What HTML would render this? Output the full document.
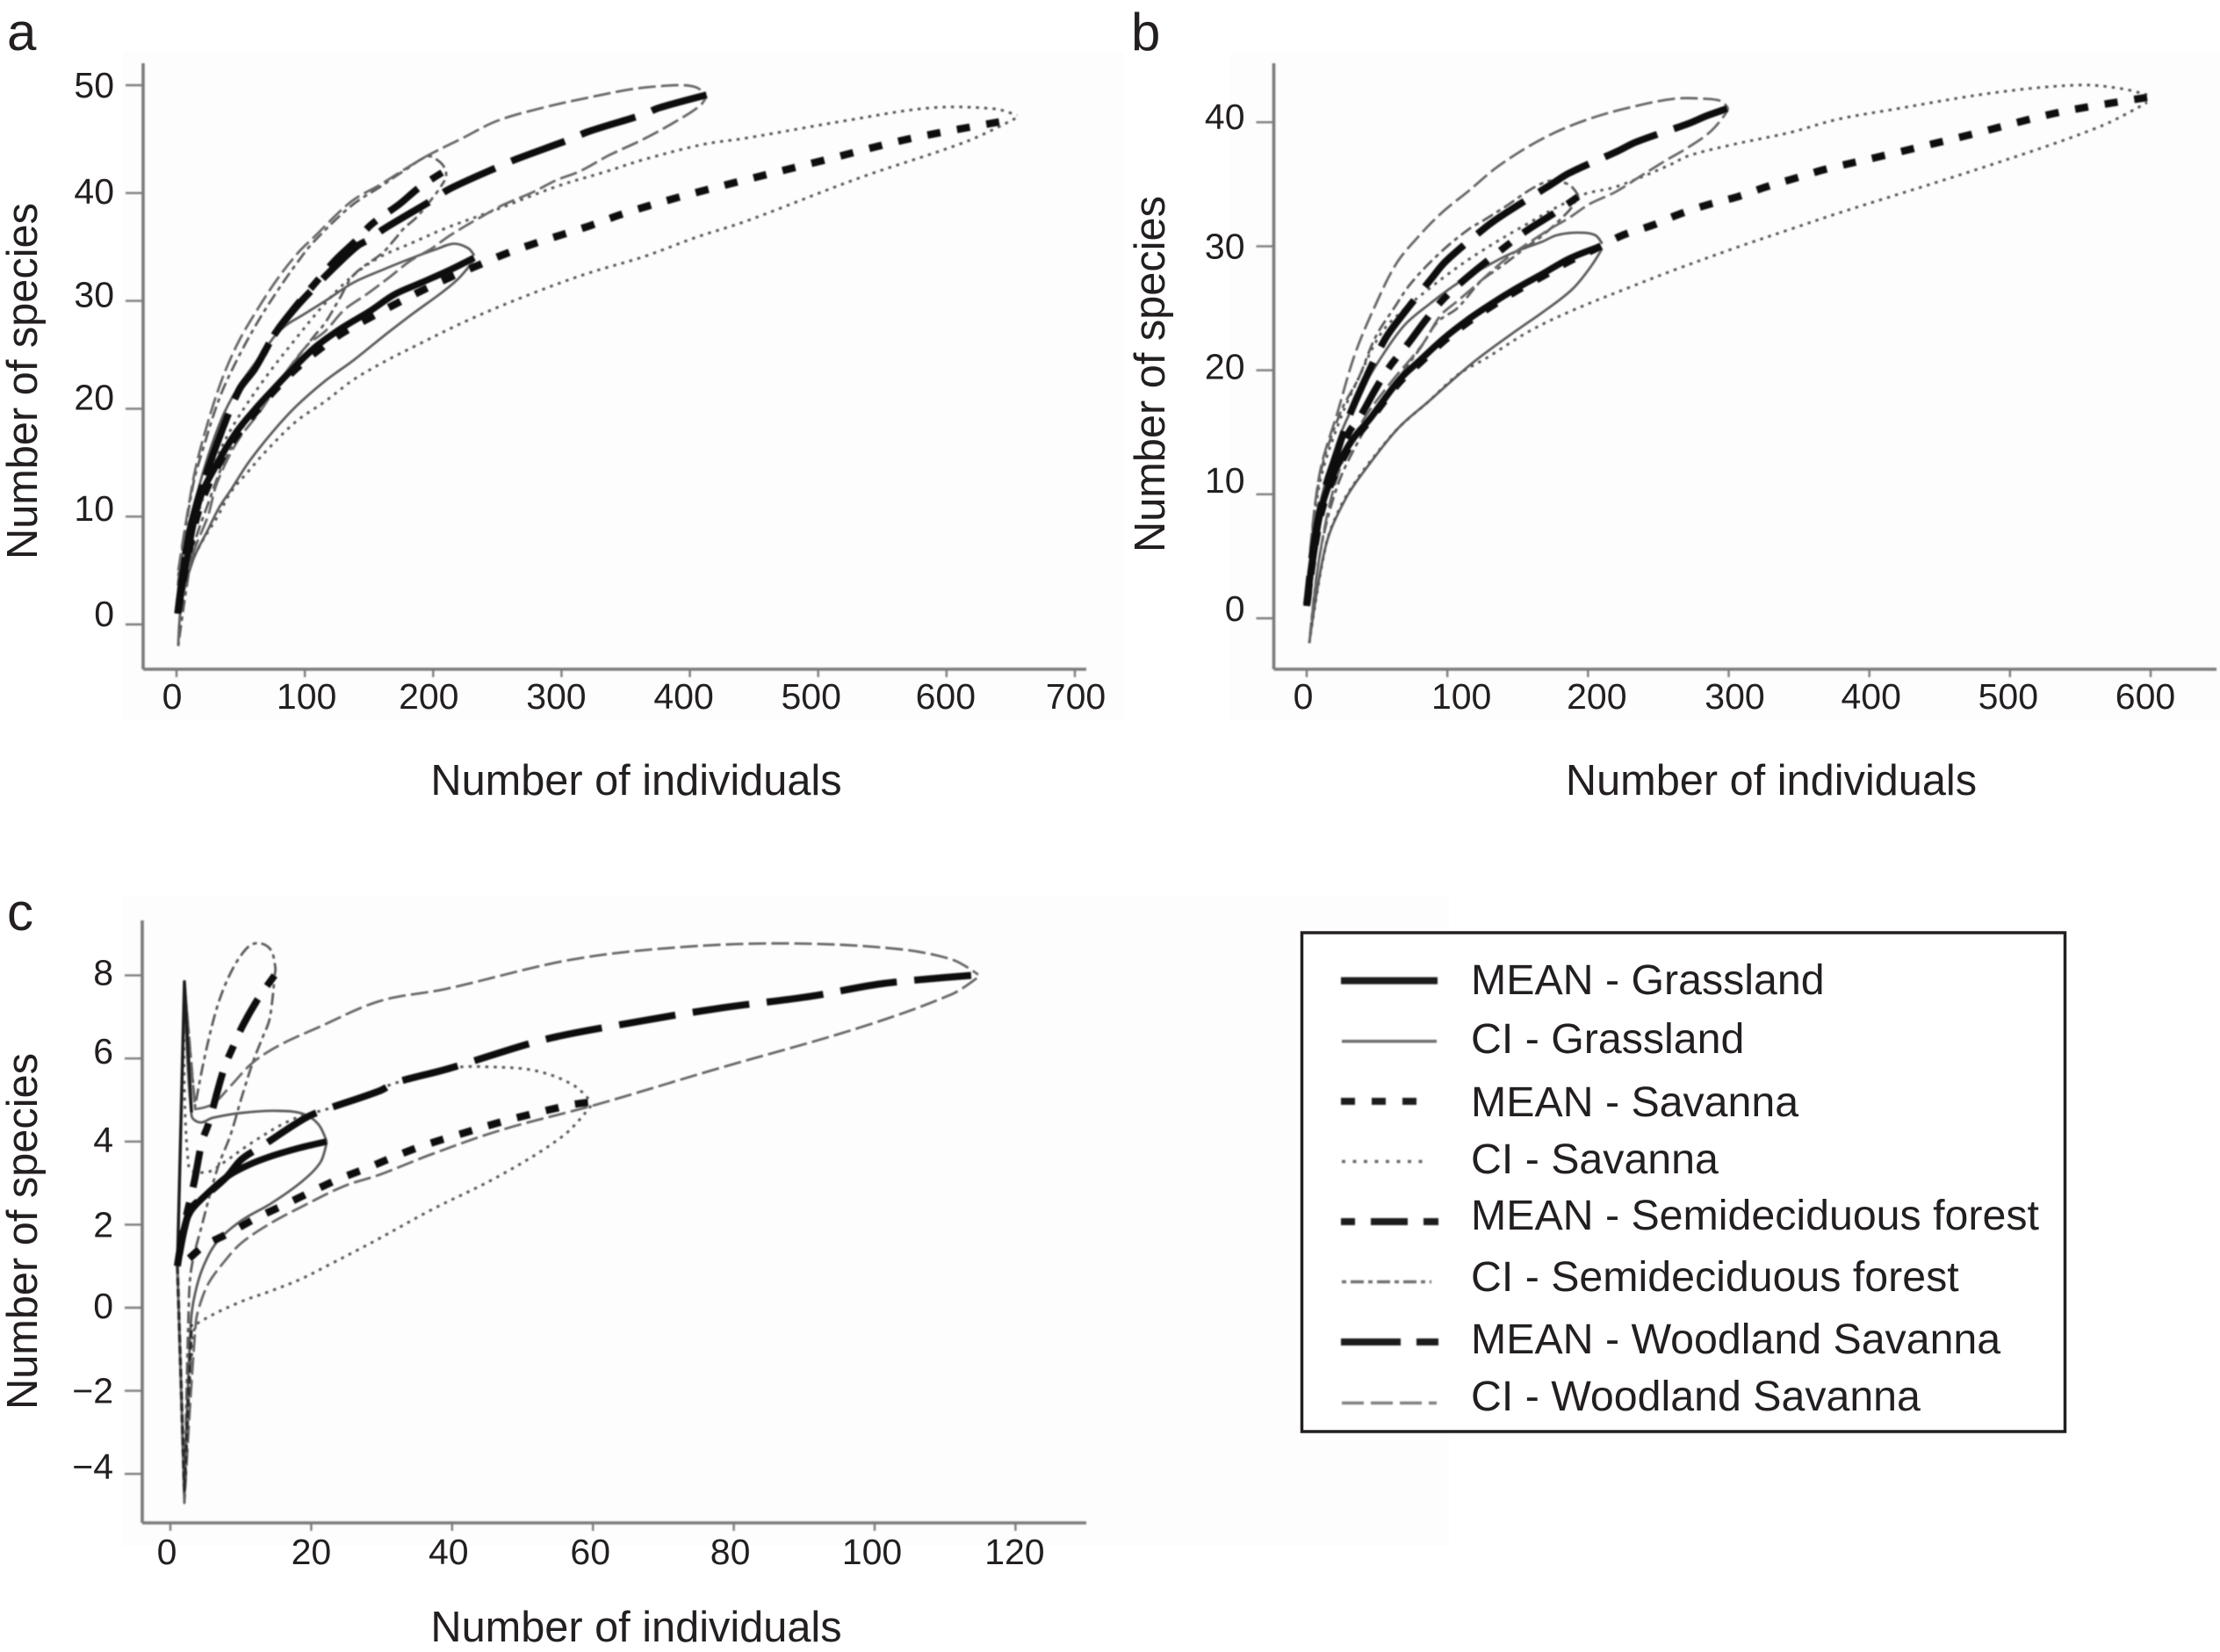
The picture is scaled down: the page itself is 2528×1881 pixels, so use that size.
<!DOCTYPE html>
<html lang="en">
<head>
<meta charset="utf-8">
<title>Species rarefaction curves</title>
<style>
html,body{margin:0;padding:0;background:#fff;}
body{width:2528px;height:1881px;overflow:hidden;}
svg{display:block;}
text{font-family:"Liberation Sans",Arial,sans-serif;fill:#231f20;}
</style>
</head>
<body>
<svg id="fig" xmlns="http://www.w3.org/2000/svg" width="2528" height="1881" viewBox="0 0 2528 1881">
<defs>
<filter id="soft" filterUnits="userSpaceOnUse" x="0" y="0" width="2528" height="1881"><feGaussianBlur stdDeviation="0.8"/></filter>
</defs>
<rect x="0" y="0" width="2528" height="1881" fill="#ffffff"/>
<rect x="140" y="60" width="1140" height="760" fill="#fdfdfd"/>
<rect x="1400" y="60" width="1128" height="760" fill="#fdfdfd"/>
<rect x="140" y="1020" width="1510" height="740" fill="#fdfdfd"/>
<text x="8" y="57" font-size="60">a</text>
<text x="1288" y="57" font-size="60">b</text>
<text x="8" y="1059" font-size="60">c</text>
<g id="panels"></g>

<g>
<rect x="1482.5" y="1062" width="869" height="568" fill="#ffffff" stroke="#231f20" stroke-width="3.5"/>
<g filter="url(#soft)" fill="none" stroke-linecap="butt">
<line x1="1527" x2="1637" y1="1116.6" y2="1116.6" stroke="#1a1a1a" stroke-width="8"/>
<line x1="1528" x2="1636" y1="1185.6" y2="1185.6" stroke="#707070" stroke-width="3.5"/>
<line x1="1527" x2="1613" y1="1254" y2="1254" stroke="#1a1a1a" stroke-width="8" stroke-dasharray="16 19"/>
<line x1="1528" x2="1628" y1="1322.5" y2="1322.5" stroke="#666666" stroke-width="3.5" stroke-dasharray="4 8.5"/>
<line x1="1527" x2="1638" y1="1391" y2="1391" stroke="#1a1a1a" stroke-width="8" stroke-dasharray="16 18 42 18 17 100"/>
<line x1="1528" x2="1630" y1="1459.5" y2="1459.5" stroke="#707070" stroke-width="3.5" stroke-dasharray="5 5 15 5"/>
<line x1="1527" x2="1638" y1="1528" y2="1528" stroke="#1a1a1a" stroke-width="8" stroke-dasharray="68 18"/>
<line x1="1528" x2="1636" y1="1597.5" y2="1597.5" stroke="#808080" stroke-width="3.5" stroke-dasharray="25 8"/>
</g>
<g font-size="48.3">
<text x="1675" y="1132">MEAN - Grassland</text>
<text x="1675" y="1199">CI - Grassland</text>
<text x="1675" y="1271">MEAN - Savanna</text>
<text x="1675" y="1336">CI - Savanna</text>
<text x="1675" y="1400">MEAN - Semideciduous forest</text>
<text x="1675" y="1470">CI - Semideciduous forest</text>
<text x="1675" y="1541">MEAN - Woodland Savanna</text>
<text x="1675" y="1606">CI - Woodland Savanna</text>
</g>
</g>
</svg>

<script>
// ---------- Panel a data: [individuals, species] ----------
const aXTicks = [0,100,200,300,400,500,600,700];
const aYTicks = [0,10,20,30,40,50];
const aGrassMean = [[1,1],[6.8,5.2],[17.8,11.5],[33.5,15.3],[47,17.9],[63,20.2],[77,22],[93,24],[109,25.8],[129,27.5],[150,29],[170,30.6],[191,31.7],[213.5,32.9],[232,34]];
const aGrassUpper = [[1,3.6],[4,6],[17.8,12.9],[33.5,18.6],[47,21.8],[66,25],[77,26.8],[86,27.8],[97,28.6],[116,30],[138,31.7],[161,32.9],[184,34],[202.5,34.8],[216,35.3],[227,34.9],[232,34.2]];
const aGrassLower = [[1.4,-2],[4,2],[13,6],[24.6,8.8],[33.5,10.9],[42.5,12.5],[56,15],[74.5,17.8],[93,20.2],[116,22.6],[138,24.5],[161,26.7],[184,28.8],[207,30.8],[220,32.1],[232,33.8]];
const aSavMean = [[1,1],[6.8,5],[17.8,10.8],[33.5,15],[47,17.5],[63,19.9],[77,21.8],[93,23.7],[109,25.3],[129,27],[150,28.4],[172,29.8],[192,31],[213.5,32.2],[235,33.3],[257,34.4],[278.5,35.3],[302,36.2],[323,37],[346,38],[367.5,38.8],[391,39.6],[413,40.3],[436,41],[503,43],[570,45],[641,46.6]];
const aSavUpper = [[1.4,4],[20,11.5],[33.5,16],[47,19],[70,23],[93,26.5],[116,29.8],[138,32.4],[159,34.1],[182,35.3],[209,36.7],[250,38.5],[296,40.6],[335,42],[364,43.1],[410,44.5],[444,45.1],[521,46.7],[588,47.9],[638,47.8],[655,47.2]];
const aSavLower = [[1.4,-2],[4,2],[11,5.5],[20,7.7],[31.5,9.9],[42.5,12.3],[56,14.2],[70,16.1],[93,18.8],[116,20.7],[138,22.7],[161,24.3],[184,25.7],[227,28.2],[273,30.5],[319,32.5],[364,34.1],[405,35.9],[444,37.4],[532,41.4],[616,44.8],[655,47]];
const aSemiMean = [[1,1],[8.2,7.4],[17.8,12],[33.5,17.4],[49,21.8],[61,23.7],[77,27],[93,29.5],[107,31.5],[124,33.8],[140,35.6],[152,37.1],[174,39],[189,40.5],[207,41.9]];
const aSemiUpper = [[1.4,4.5],[13,13],[20,16],[33.5,21],[47,24.5],[63,28],[79,31],[95,33.7],[107,35.5],[136,38.8],[159,40.6],[179,42.2],[196,43.4],[204,43],[209,42.3],[210,41.5],[207,40.8]];
const aSemiLower = [[1.4,-2],[13,7],[24,11],[38,15.3],[59,19.6],[83.5,23.1],[107,26.7],[116,28],[127,30.2],[138,32.4],[161,34.5],[170,35.7],[177,36.7],[187.5,37.8],[202.5,40],[207,40.8]];
const aWoodMean = [[1,1],[8.2,7.4],[17.8,12],[33.5,17.4],[49,21.8],[61,23.7],[77,27],[93,29.4],[107,31.2],[124.5,33.3],[141,35.1],[150,35.7],[162,36.7],[200,39.4],[213,40.4],[254,42.6],[266,43.2],[307,45],[321,45.7],[364,47.3],[376,47.9],[413,49.1]];
const aWoodUpper = [[1.4,5],[13,13.4],[20,16.9],[33.5,22.1],[47,25.9],[63,29.2],[79,32.1],[95,34.5],[107,35.9],[136,39.2],[159,40.8],[179,42.3],[196,43.5],[223,45.1],[250,46.7],[285,47.9],[319,48.8],[353,49.6],[376,49.9],[394,50],[405,49.8],[412,49.2]];
const aWoodLower = [[1.4,-2],[4,2.3],[13,6.6],[24.6,10.1],[31.5,13.1],[47,16.9],[66,19.9],[83,23],[102,25.9],[116,27.2],[131,29.2],[148,30.6],[166,32.2],[182,33.7],[198,34.8],[213.5,36.1],[239,37.9],[254.5,38.9],[278,40.1],[296,41.2],[314,42],[337,43.5],[364,45],[387,46.5],[408,48.1],[413,49]];

// ---------- Panel b data ----------
const bXTicks = [0,100,200,300,400,500,600];
const bYTicks = [0,10,20,30,40];
const bGrassMean = [[0,1],[5.6,5.9],[11.9,9.5],[21.9,12.3],[32.5,14.4],[45,16.1],[65.6,19.2],[80.5,20.8],[96.8,22.5],[113.6,24],[130.5,25.3],[149,26.6],[168,27.8],[186.7,29],[209,30]];
const bGrassUpper = [[2.5,4.7],[7.5,8.3],[21.9,14.2],[37,18],[55.6,21.5],[70,23.7],[86.8,25.3],[107,27],[128,28.4],[145,29.4],[168,30.4],[178,30.9],[193,31.1],[205,30.9],[210,30.2]];
const bGrassLower = [[1.9,-2],[13.7,5.9],[28,9.7],[45,12.5],[65.6,15.4],[86.8,17.5],[118,20.6],[149,23.2],[168,24.7],[188.5,26.5],[201,28.2],[210,29.8]];
const bSavMean = [[0,1],[5.6,5.7],[11.9,9.2],[21.9,12],[32.5,14.2],[45,16],[65.6,19],[80.5,20.6],[96.8,22.3],[113.6,23.8],[130.5,25.1],[149,26.4],[168,27.6],[186.7,28.8],[209,30],[224.8,30.9],[246,31.7],[265,32.6],[286.6,33.4],[306.6,34],[327,34.8],[347.8,35.5],[368.4,36.2],[410,37.3],[472,39],[535,40.8],[597.5,42]];
const bSavUpper = [[2.5,5],[9.4,11],[24,16.1],[37,19.4],[53,23],[70,25],[84,26.3],[101,27.8],[120,29.3],[149,31.3],[195,34.1],[220,34.8],[257,36.5],[271.6,37.3],[303,38.2],[344.6,39.2],[376,40.2],[415,41],[490,42.4],[550,43],[580,42.7],[597.5,42.2]];
const bSavLower = [[1.9,-2],[13.7,5.9],[24,9],[37,11.4],[49,13.2],[65.6,15.4],[86.8,17.5],[107,19.6],[128,21],[159,23.2],[190.4,24.9],[232,26.8],[261.6,28.1],[303,29.8],[344.6,31.4],[376,32.6],[490,36.7],[565,39.7],[597.5,41.6]];
const bSemiMean = [[0,1],[9,8],[21,12.6],[30,15],[38.7,16.4],[49,18.5],[59,20.3],[71.8,22.1],[84.3,24],[96,25.6],[109,27],[126,28.6],[140.5,29.9],[155.5,31.2],[175,32.6],[193,34]];
const bSemiUpper = [[2.5,5],[9.4,11.5],[24,16.6],[37,19.4],[49,22.7],[62,25],[74,27],[95,29.5],[115.5,31.4],[126,32.1],[138.6,33],[170,35.2],[186,35],[193,34.1]];
const bSemiLower = [[1.9,-2],[9.4,5.2],[21.9,10.7],[38.7,14.7],[53,17.3],[70,20.1],[82,22],[93,23.9],[107,25],[124,27.2],[138.6,28.4],[157,30],[168,30.9],[186.7,32.9],[193,34]];
const bWoodMean = [[0,1],[5.6,6.5],[13.7,10.7],[21.9,13.5],[30.6,16.4],[43,19.6],[55.6,22.5],[65.6,24.1],[88.7,27.4],[99,28.8],[128,31.6],[140.5,32.6],[174,35],[186.7,35.9],[221.6,37.7],[234,38.4],[271.6,39.9],[284,40.5],[299,41.1]];
const bWoodUpper = [[2.5,5.5],[9.4,11.8],[21.9,16.6],[34.3,21.3],[49,25.3],[63.7,28.6],[78,30.6],[95,32.6],[115.5,34.5],[136.7,36.5],[168,38.7],[199,40.2],[230,41.2],[261.6,41.9],[282,41.9],[294.7,41.7],[299.7,41.1]];
const bWoodLower = [[1.9,-2],[9.4,5.2],[21.9,11.5],[38.7,15.7],[59,18.9],[82.4,22.1],[95,24.4],[107.4,25.6],[121.7,27],[143,29.1],[171.7,31.3],[186.7,32.3],[201,33.4],[219.8,34.4],[236.6,35.6],[255,36.9],[271.6,38],[286.6,39.2],[296.6,40.5],[299.7,41.1]];

// ---------- Panel c data ----------
const cXTicks = [0,20,40,60,80,100,120];
const cYTicks = [-4,-2,0,2,4,6,8];
const cGrassMean = [[1,1.04],[1.8,1.8],[2.8,2.3],[4.7,2.66],[8,3.15],[11,3.43],[14.2,3.64],[18.4,3.85],[22.2,4]];
const cGrassUpper = [[1,1],[2,7.85],[3,4.63],[4.2,4.46],[6,4.57],[10.1,4.69],[15.1,4.74],[18.8,4.67],[21,4.42],[22.2,4]];
const cGrassLower = [[1,1],[2,-4.4],[2.9,-0.38],[3.5,0.34],[4.7,1],[6.7,1.6],[10.1,2.1],[14.2,2.5],[18.4,3],[21.3,3.5],[22.2,4]];
const cSavMean = [[1,1],[2.4,1.15],[4.7,1.48],[8.6,1.82],[12.2,2.16],[16.1,2.47],[20,2.79],[23.8,3.09],[27.9,3.36],[32,3.65],[35.7,3.89],[39.8,4.11],[48,4.52],[56.8,4.88],[59.3,4.94]];
const cSavUpper = [[1,1],[2,7.85],[2.6,3.4],[5.1,3.26],[7.6,3.5],[10.5,3.85],[12.2,4.04],[15.5,4.38],[18.8,4.63],[22.2,4.78],[32,5.41],[40,5.77],[45,5.8],[52,5.7],[57.3,5.35],[59.8,4.94]];
const cSavLower = [[1,1],[2,-4.7],[3.4,-0.5],[4.9,-0.27],[10.1,0.15],[14.2,0.4],[18.4,0.68],[22.6,1.04],[26.7,1.4],[29.7,1.67],[37,2.35],[47,3.2],[56,4.17],[59.8,4.88]];
const cSemiMean = [[1,1],[2,2],[3.4,3.04],[4.5,4],[5.4,4.42],[7.6,5.75],[8.9,6.28],[10.3,6.8],[12.4,7.42],[14.8,8]];
const cSemiUpper = [[1,1],[2,7.85],[3.5,4.84],[4.7,5.9],[6.4,7.1],[8,7.86],[10.1,8.5],[12,8.77],[14.1,8.65],[14.9,8.2],[14.8,8]];
const cSemiLower = [[1,1],[2,-4.7],[2.6,0],[3,0.97],[4.5,2],[6.7,3.36],[8.5,4.14],[10.1,5.05],[11.7,5.9],[13,6.47],[14.1,6.96],[14.8,8]];
const cWoodMean = [[1,1],[2,1.9],[3,2.4],[5,2.7],[8,3.15],[10.1,3.57],[13,3.89],[19.2,4.57],[22.2,4.78],[29.7,5.22],[32,5.42],[39.4,5.75],[53,6.45],[63.4,6.8],[77.6,7.2],[91,7.5],[101,7.8],[113.7,8]];
const cWoodUpper = [[1,1],[2,7.85],[3.5,4.78],[6,4.9],[8.5,5.33],[11.7,5.9],[15.5,6.32],[20.9,6.74],[29.7,7.38],[39,7.67],[57,8.38],[72.5,8.68],[87.8,8.77],[103,8.64],[111,8.38],[114.7,8.02]];
const cWoodLower = [[1,1],[2,-4.7],[3.6,-0.38],[4.3,0.13],[5.5,0.61],[7.6,1.1],[10.1,1.56],[14.2,2.03],[18.4,2.41],[24.7,2.93],[29.7,3.2],[37,3.69],[47,4.28],[60.3,4.88],[77.6,5.75],[98,6.75],[111,7.55],[114.7,7.96]];
const cSpikeUpper = [[1,1],[2,7.85],[3,4.7]];
const cSpikeLower = [[1,1],[2,-4.4],[3,-0.4]];

const NS = 'http://www.w3.org/2000/svg';
const root = document.getElementById('panels');

const lineStyles = {
  grassMean:{stroke:'#0e0e0e',width:7.5,dash:''},
  grassCI:{stroke:'#5a5a5a',width:2.8,dash:''},
  savMean:{stroke:'#0e0e0e',width:8.5,dash:'15 19',fromEnd:true},
  savCI:{stroke:'#555555',width:3,dash:'3.5 6'},
  semiMean:{stroke:'#0e0e0e',width:8,dash:'15 18 42 18',fromEnd:true},
  semiCI:{stroke:'#5a5a5a',width:2.8,dash:'5 5 14 5'},
  woodMean:{stroke:'#0e0e0e',width:8,dash:'65 20',fromEnd:true},
  woodCI:{stroke:'#666666',width:2.8,dash:'20 6'},
  spikeUp:{stroke:'#1c1c1c',width:3.5,dash:''},
  spikeDown:{stroke:'#2a2a2a',width:3.5,dash:'9 4'}
};

function smooth(pts){
  const n = pts.length;
  const dirs = pts.map(function(p,i){
    if(i===0 || i===n-1){ return [0,0]; }
    const a = [p[0]-pts[i-1][0], p[1]-pts[i-1][1]];
    const b = [pts[i+1][0]-p[0], pts[i+1][1]-p[1]];
    if(a[0]*b[0]+a[1]*b[1] <= 0){ return [0,0]; }
    const v = [pts[i+1][0]-pts[i-1][0], pts[i+1][1]-pts[i-1][1]];
    const lv = Math.hypot(v[0],v[1]) || 1;
    return [v[0]/lv, v[1]/lv];
  });
  let d = 'M' + pts[0][0].toFixed(1) + ' ' + pts[0][1].toFixed(1);
  for(let i=0;i<n-1;i++){
    const p1 = pts[i], p2 = pts[i+1];
    const h = Math.hypot(p2[0]-p1[0], p2[1]-p1[1]) * 0.34;
    d += 'C'+(p1[0]+dirs[i][0]*h).toFixed(1)+' '+(p1[1]+dirs[i][1]*h).toFixed(1)+' '+(p2[0]-dirs[i+1][0]*h).toFixed(1)+' '+(p2[1]-dirs[i+1][1]*h).toFixed(1)+' '+p2[0].toFixed(1)+' '+p2[1].toFixed(1);
  }
  return d;
}

function svgEl(tag, attrs, parent){
  const el = document.createElementNS(NS, tag);
  for(const k in attrs){ el.setAttribute(k, attrs[k]); }
  parent.appendChild(el);
  return el;
}

function drawPanel(p){
  const g = svgEl('g', {}, root);
  
  
  const xs = v => p.x0 + v * p.xk;
  const ys = v => p.y0 - v * p.yk;
  const curves = svgEl('g', {filter:'url(#soft)', fill:'none'}, g);
  
  
  p.series.forEach(function(s){
    const st = lineStyles[s.style];
    const pts = s.data.map(q => [xs(q[0]), ys(q[1])]);
    if(st.fromEnd){ pts.reverse(); }
    const path = svgEl('path', {d:smooth(pts), stroke:st.stroke, 'stroke-width':st.width, 'stroke-linejoin':'round'}, curves);
    if(st.dash){ path.setAttribute('stroke-dasharray', st.dash); }
    
    
  });
  const axes = svgEl('g', {filter:'url(#soft)', stroke:'#7a7a7a', 'stroke-width':3.6}, g);
  
  
  const yAxis = svgEl('line', {x1:p.axisX, x2:p.axisX, y1:p.axisTop, y2:p.axisY}, axes);
  
  
  const xAxis = svgEl('line', {x1:p.axisX, x2:p.axisEnd, y1:p.axisY, y2:p.axisY}, axes);
  
  
  p.xTicks.forEach(function(v,i){
    const tick = svgEl('line', {x1:xs(v), x2:xs(v), y1:p.axisY, y2:p.axisY+9, 'stroke-width':2.4}, axes);
    
    
    const t = svgEl('text', {x:xs(v)+p.xNudge[i], y:p.xLabelY, 'font-size':41, 'text-anchor':'middle'}, g);
    t.textContent = String(v);
    
    
  });
  p.yTicks.forEach(function(v,i){
    const tick = svgEl('line', {x1:p.axisX-20, x2:p.axisX, y1:ys(v), y2:ys(v), 'stroke-width':2.4}, axes);
    
    
    const t = svgEl('text', {x:p.axisX-33, y:ys(v)+14+p.yNudge[i], 'font-size':41, 'text-anchor':'end'}, g);
    t.textContent = String(v).replace('-', '\u2212');
    
    
  });
  const xt = svgEl('text', {x:p.xTitleX, y:p.xTitleY, 'font-size':48.7, 'text-anchor':'middle'}, g);
  xt.textContent = 'Number of individuals';
  
  
  const yt = svgEl('text', {transform:'translate('+p.yTitleX+' '+p.yTitleY+') rotate(-90)', 'font-size':48.7, 'text-anchor':'middle'}, g);
  yt.textContent = 'Number of species';
  
  
}

drawPanel({id:'a', x0:201, xk:1.4614, y0:711, yk:12.28, axisX:163, axisTop:72, axisY:762, axisEnd:1237,
  xTicks:aXTicks, yTicks:aYTicks, xNudge:[-5,2,-5,-6,-7,-8,-1,1], yNudge:[-12,-9,-13,-7,-2,0], xLabelY:807,
  xTitleX:724.5, xTitleY:905, yTitleX:42, yTitleY:434,
  series:[
    {name:'ci-grassland-upper',style:'grassCI',data:aGrassUpper},{name:'ci-grassland-lower',style:'grassCI',data:aGrassLower},
    {name:'ci-savanna-upper',style:'savCI',data:aSavUpper},{name:'ci-savanna-lower',style:'savCI',data:aSavLower},
    {name:'ci-semideciduous-upper',style:'semiCI',data:aSemiUpper},{name:'ci-semideciduous-lower',style:'semiCI',data:aSemiLower},
    {name:'ci-woodland-upper',style:'woodCI',data:aWoodUpper},{name:'ci-woodland-lower',style:'woodCI',data:aWoodLower},
    {name:'mean-savanna',style:'savMean',data:aSavMean},{name:'mean-semideciduous',style:'semiMean',data:aSemiMean},
    {name:'mean-woodland',style:'woodMean',data:aWoodMean},{name:'mean-grassland',style:'grassMean',data:aGrassMean}
  ]});

drawPanel({id:'b', x0:1488, xk:1.6017, y0:704, yk:14.12, axisX:1450.5, axisTop:72, axisY:762, axisEnd:2524,
  xTicks:bXTicks, yTicks:bYTicks, xNudge:[-4,16,10,7,2,-2,-6], yNudge:[-11,-16,-4,0,-6], xLabelY:807,
  xTitleX:2017, xTitleY:905, yTitleX:1326, yTitleY:426,
  series:[
    {name:'ci-grassland-upper',style:'grassCI',data:bGrassUpper},{name:'ci-grassland-lower',style:'grassCI',data:bGrassLower},
    {name:'ci-savanna-upper',style:'savCI',data:bSavUpper},{name:'ci-savanna-lower',style:'savCI',data:bSavLower},
    {name:'ci-semideciduous-upper',style:'semiCI',data:bSemiUpper},{name:'ci-semideciduous-lower',style:'semiCI',data:bSemiLower},
    {name:'ci-woodland-upper',style:'woodCI',data:bWoodUpper},{name:'ci-woodland-lower',style:'woodCI',data:bWoodLower},
    {name:'mean-savanna',style:'savMean',data:bSavMean},{name:'mean-semideciduous',style:'semiMean',data:bSemiMean},
    {name:'mean-woodland',style:'woodMean',data:bWoodMean},{name:'mean-grassland',style:'grassMean',data:bGrassMean}
  ]});

drawPanel({id:'c', x0:194, xk:8.02, y0:1489, yk:47.3, axisX:162, axisTop:1048, axisY:1734, axisEnd:1237,
  xTicks:cXTicks, yTicks:cYTicks, xNudge:[-4,0,-4,-3,-4,-3,-1], yNudge:[-8,0,-2,0,-2,-8,-3], xLabelY:1781,
  xTitleX:724.5, xTitleY:1869, yTitleX:42, yTitleY:1402,
  series:[
    {name:'ci-grassland-upper',style:'grassCI',data:cGrassUpper},{name:'ci-grassland-lower',style:'grassCI',data:cGrassLower},
    {name:'ci-savanna-upper',style:'savCI',data:cSavUpper},{name:'ci-savanna-lower',style:'savCI',data:cSavLower},
    {name:'ci-semideciduous-upper',style:'semiCI',data:cSemiUpper},{name:'ci-semideciduous-lower',style:'semiCI',data:cSemiLower},
    {name:'ci-woodland-upper',style:'woodCI',data:cWoodUpper},{name:'ci-woodland-lower',style:'woodCI',data:cWoodLower},
    {name:'spike-upper',style:'spikeUp',data:cSpikeUpper},{name:'spike-lower',style:'spikeDown',data:cSpikeLower},
    {name:'mean-savanna',style:'savMean',data:cSavMean},{name:'mean-semideciduous',style:'semiMean',data:cSemiMean},
    {name:'mean-woodland',style:'woodMean',data:cWoodMean},{name:'mean-grassland',style:'grassMean',data:cGrassMean}
  ]});
</script>
</body>
</html>
